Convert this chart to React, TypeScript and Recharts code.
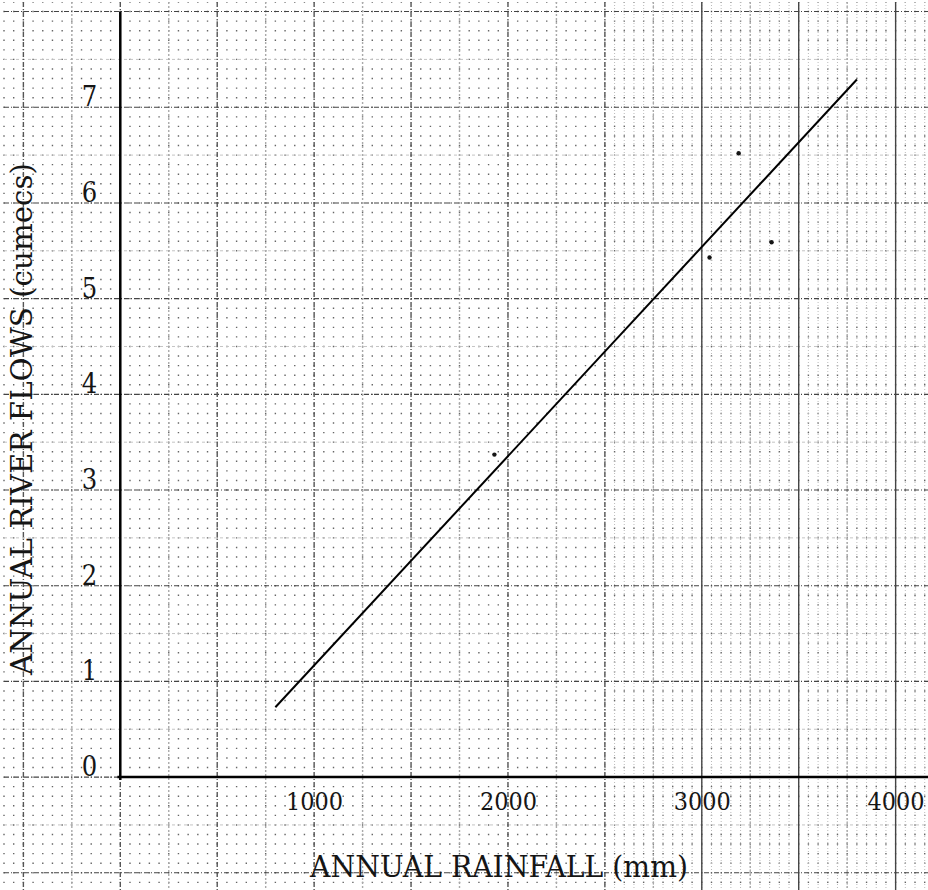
import { ScatterChart, Scatter, XAxis, YAxis, ReferenceLine } from "recharts";

// measured points (annual rainfall mm vs annual river flow cumecs)
const rainfall = [1930, 3040, 3190, 3360];
const riverFlow = [3.37, 5.43, 6.52, 5.59];

// hand drawn line of best fit, end points
const fitRainfall = [800, 3800];
const fitFlow = [0.73, 7.29];

const xTickLabels = [1000, 2000, 3000, 4000];
const yTickLabels = [0, 1, 2, 3, 4, 5, 6, 7];

const W = 928;
const H = 890;
const X_DOMAIN: [number, number] = [-600, 4167];
const Y_DOMAIN: [number, number] = [-1.18, 8.1];
const FONT = "'DejaVu Serif Condensed', 'DejaVu Serif', serif";
const INK = "#151515";

// graph paper rulings
const range = (from: number, to: number, step: number) => {
  const out: number[] = [];
  for (let v = from; v <= to + 1e-9; v += step) out.push(Math.round(v * 1000) / 1000);
  return out;
};
const dotCols = range(-600, 4150, 50);
const denseCols = range(2500, 4150, 50);
const quarterCols = range(-750, 4250, 500);
const majorCols = range(-500, 2500, 500);
const rightMajorCols = range(3000, 4000, 500);
const halfRows = range(-0.5, 7.5, 1);
const unitRows = range(-1, 8, 1);

const points = rainfall.map((x, i) => ({ x, y: riverFlow[i] }));
const xTickData = xTickLabels.map((x) => ({ x, y: 0 }));
const yTickData = yTickLabels.map((y) => ({ x: 0, y }));

const tenthPx = (H - 2) / ((Y_DOMAIN[1] - Y_DOMAIN[0]) * 10);

const XTick = (props: any) => (
  <text
    x={props.cx - 28}
    y={props.cy + 33}
    fontFamily={FONT}
    fontSize={24}
    fill={INK}
    textLength={57}
    lengthAdjust="spacingAndGlyphs"
  >
    {props.payload.x}
  </text>
);

const YTick = (props: any) => (
  <text
    x={props.cx - 23}
    y={props.cy - 1}
    textAnchor="end"
    fontFamily={FONT}
    fontSize={27}
    fill={INK}
  >
    {props.payload.y}
  </text>
);

const Dot = (props: any) => <circle cx={props.cx} cy={props.cy} r={2.2} fill={INK} />;

const col = (v: number, key: string, style: any) => (
  <ReferenceLine
    key={key + v}
    segment={[{ x: v, y: Y_DOMAIN[1] }, { x: v, y: -1.2 }]}
    ifOverflow="visible"
    {...style}
  />
);
const row = (v: number, key: string, style: any) => (
  <ReferenceLine
    key={key + v}
    segment={[{ x: X_DOMAIN[0], y: v }, { x: X_DOMAIN[1], y: v }]}
    ifOverflow="visible"
    {...style}
  />
);

export default function App() {
  return (
    <div style={{ position: "absolute", left: 0, top: 0, width: W, height: H, background: "#fff" }}>
      <ScatterChart width={W} height={H} margin={{ top: 2, right: 0, bottom: 0, left: 4 }}>
        <XAxis type="number" dataKey="x" domain={X_DOMAIN} allowDataOverflow hide />
        <YAxis type="number" dataKey="y" domain={Y_DOMAIN} allowDataOverflow hide />

        {dotCols.map((v) =>
          col(v, "dot", {
            stroke: "#666",
            strokeWidth: 1.4,
            strokeDasharray: `1.4 ${tenthPx - 1.4}`,
            strokeDashoffset: 0.7,
          })
        )}
        {denseCols.map((v) => col(v, "dense", { stroke: "#bbb", strokeWidth: 1, strokeDasharray: "1 2" }))}
        {halfRows.map((v) => row(v, "half", { stroke: "#c4c4c4", strokeWidth: 1, strokeDasharray: "3 3" }))}
        {quarterCols.map((v) => col(v, "q", { stroke: "#aaa", strokeWidth: 1.4, strokeDasharray: "2 2" }))}
        {unitRows.map((v) => row(v, "unit", { stroke: "#444", strokeWidth: 1.1, strokeDasharray: "5 2 1 2" }))}
        {majorCols.map((v) => col(v, "maj", { stroke: "#555", strokeWidth: 1.4, strokeDasharray: "5 2 1 2" }))}
        {rightMajorCols.map((v) => col(v, "rmaj", { stroke: "#444", strokeWidth: 1.4 }))}

        <ReferenceLine segment={[{ x: 0, y: -0.03 }, { x: 0, y: 8.0 }]} stroke="#000" strokeWidth={2.5} />
        <ReferenceLine segment={[{ x: -15, y: 0 }, { x: X_DOMAIN[1], y: 0 }]} stroke="#000" strokeWidth={2.5} />
        <ReferenceLine
          segment={[
            { x: fitRainfall[0], y: fitFlow[0] },
            { x: fitRainfall[1], y: fitFlow[1] },
          ]}
          stroke="#000"
          strokeWidth={2}
        />

        <Scatter data={xTickData} shape={XTick} isAnimationActive={false} />
        <Scatter data={yTickData} shape={YTick} isAnimationActive={false} />
        <Scatter data={points} shape={Dot} isAnimationActive={false} />
      </ScatterChart>

      <svg
        width={W}
        height={H}
        style={{ position: "absolute", left: 0, top: 0, pointerEvents: "none" }}
      >
        <text
          x={310}
          y={877}
          fontFamily={FONT}
          fontSize={30}
          fill={INK}
          textLength={378}
          lengthAdjust="spacingAndGlyphs"
        >
          ANNUAL RAINFALL (mm)
        </text>
        <text
          transform="translate(32 675) rotate(-90)"
          fontFamily={FONT}
          fontSize={30}
          fill={INK}
          textLength={512}
          lengthAdjust="spacingAndGlyphs"
        >
          ANNUAL RIVER FLOWS (cumecs)
        </text>
      </svg>
    </div>
  );
}
